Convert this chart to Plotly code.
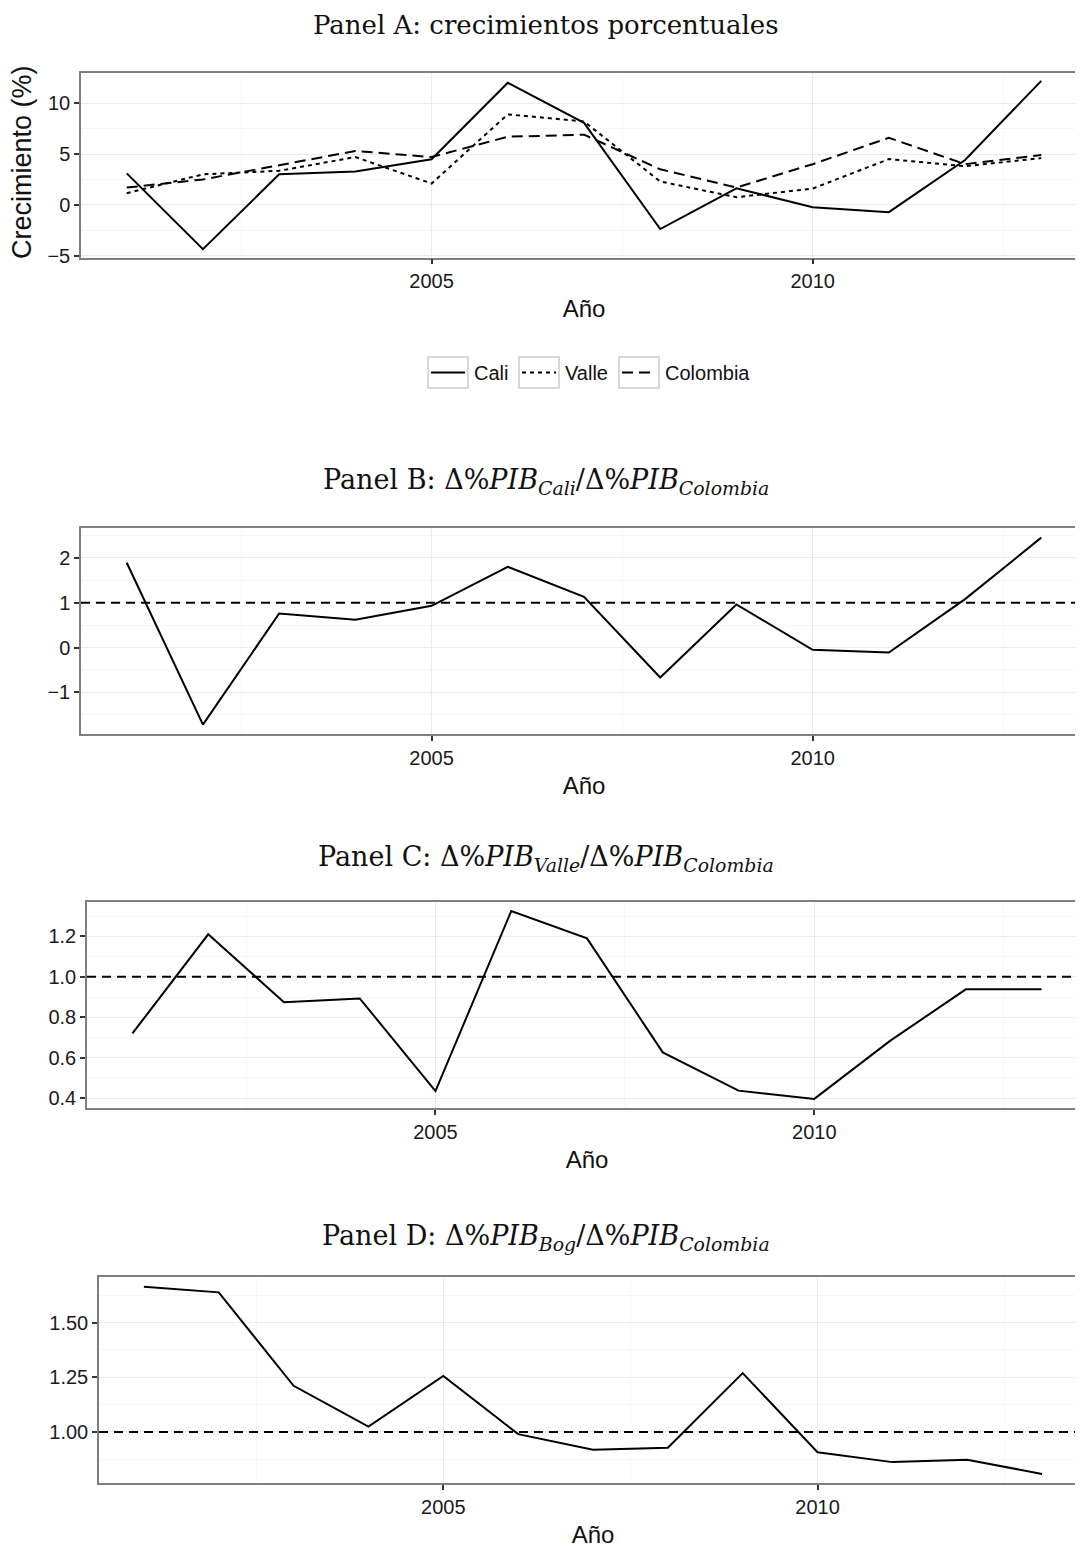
import plotly.graph_objects as go

W, H = 1083, 1547
OFF = 8  # page body margin in the browser

# ---------------- data ----------------
years = list(range(2001, 2014))
cali = [3.1, -4.35, 3.0, 3.27, 4.48, 12.0, 8.07, -2.38, 1.63, -0.23, -0.72, 4.41, 12.19]
valle = [1.15, 3.0, 3.35, 4.7, 2.1, 8.9, 8.2, 2.3, 0.75, 1.6, 4.5, 3.8, 4.6]
colombia = [1.7, 2.5, 3.9, 5.3, 4.7, 6.7, 6.9, 3.5, 1.7, 4.0, 6.6, 4.0, 4.9]

ratio_cali = [1.89, -1.72, 0.76, 0.62, 0.93, 1.80, 1.13, -0.67, 0.96, -0.05, -0.11, 1.08, 2.45]
ratio_valle = [0.72, 1.21, 0.874, 0.893, 0.435, 1.325, 1.19, 0.626, 0.437, 0.396, 0.683, 0.938, 0.938]
ratio_bog = [1.664, 1.638, 1.211, 1.024, 1.256, 0.99, 0.919, 0.928, 1.269, 0.907, 0.862, 0.873, 0.808]

reference_value = 1.0

x_ticks = [2005, 2010]
x_minor = [2002.5, 2007.5, 2012.5]

yticks_a = [-5, 0, 5, 10]
yminor_a = [-2.5, 2.5, 7.5, 12.5]
yticks_b = [-1, 0, 1, 2]
yminor_b = [-1.5, -0.5, 0.5, 1.5, 2.5]
yticks_c = [0.4, 0.6, 0.8, 1.0, 1.2]
yminor_c = [0.5, 0.7, 0.9, 1.1, 1.3]
yticks_d = [1.00, 1.25, 1.50]
yminor_d = [0.875, 1.125, 1.375, 1.625]

series_names = ["Cali", "Valle", "Colombia"]
titles = [
    "Panel A: crecimientos porcentuales",
    "Panel B: Δ%<i>PIB</i><sub><i>Cali</i></sub>/Δ%<i>PIB</i><sub><i>Colombia</i></sub>",
    "Panel C: Δ%<i>PIB</i><sub><i>Valle</i></sub>/Δ%<i>PIB</i><sub><i>Colombia</i></sub>",
    "Panel D: Δ%<i>PIB</i><sub><i>Bog</i></sub>/Δ%<i>PIB</i><sub><i>Colombia</i></sub>",
]
x_title = "Año"
y_title_a = "Crecimiento (%)"

# ---------------- helpers ----------------
def fx(p):
    return (p - OFF) / W

def fy(p):
    return 1 - (p - OFF) / H

def expand(vals, mult=0.05):
    lo, hi = min(vals), max(vals)
    d = (hi - lo) * mult
    return [lo - d, hi + d]

SANS = "Liberation Sans, Arial, sans-serif"
SERIF = "DejaVu Serif, serif"
GRID = "#EBEBEB"
MINOR = "#F7F7F7"
BORDER = "#7F7F7F"

fig = go.Figure()

# panel geometry in screen pixels: left, right, top, bottom
geo = [
    (81, 1087, 72.5, 257.5),
    (81, 1087, 528.3, 734.0),
    (87, 1087, 901.7, 1108.3),
    (99, 1087, 1277.3, 1483.3),
]
title_y = [22, 481, 858, 1237]

xr = [years[0] - 0.05 * (years[-1] - years[0]), years[-1] + 0.05 * (years[-1] - years[0])]
yranges = [
    expand(cali + valle + colombia),
    expand(ratio_cali + [reference_value]),
    expand(ratio_valle + [reference_value]),
    expand(ratio_bog + [reference_value]),
]
yticks = [yticks_a, yticks_b, yticks_c, yticks_d]
yminors = [yminor_a, yminor_b, yminor_c, yminor_d]
ytexts = [
    ["\u22125", "0", "5", "10"],
    ["\u22121", "0", "1", "2"],
    ["0.4", "0.6", "0.8", "1.0", "1.2"],
    ["1.00", "1.25", "1.50"],
]

layout = dict(
    width=W, height=H,
    margin=dict(l=0, r=0, t=0, b=0),
    paper_bgcolor="white", plot_bgcolor="white",
    showlegend=False,
    font=dict(family=SANS, color="#1a1a1a"),
)

for i, (l, r, t, b) in enumerate(geo):
    sfx = "" if i == 0 else str(i + 1)
    xa = dict(
        domain=[max(0, fx(l)), min(1, fx(r))], range=xr, anchor="y" + sfx,
        tickmode="array", tickvals=x_ticks, ticktext=[str(v) for v in x_ticks],
        ticks="outside", ticklen=5, tickwidth=1.5, tickcolor="#333333",
        showgrid=True, gridcolor=GRID, gridwidth=1.3,
        minor=dict(tickvals=x_minor, showgrid=True, gridcolor=MINOR, gridwidth=1.3, ticks=""),
        showline=True, linecolor=BORDER, linewidth=1.5, mirror=True,
        zeroline=False, automargin=False,
        tickfont=dict(size=20, family=SANS, color="#1a1a1a"),
        title=dict(text=x_title, font=dict(size=24, family=SANS, color="#111"), standoff=9),
    )
    ya = dict(
        domain=[fy(b), fy(t)], range=yranges[i], anchor="x" + sfx,
        tickmode="array", tickvals=yticks[i], ticktext=ytexts[i],
        ticks="outside", ticklen=5, tickwidth=1.5, tickcolor="#333333",
        showgrid=True, gridcolor=GRID, gridwidth=1.3,
        minor=dict(tickvals=yminors[i], showgrid=True, gridcolor=MINOR, gridwidth=1.3, ticks=""),
        showline=True, linecolor=BORDER, linewidth=1.5, mirror=True,
        zeroline=False, automargin=False,
        tickfont=dict(size=20, family=SANS, color="#1a1a1a"),
    )
    layout["xaxis" + sfx] = xa
    layout["yaxis" + sfx] = ya

fig.update_layout(**layout)

LW = 2
dashes = ["solid", "4px,4px", "11px,6px"]
for name, vals, dsh in zip(series_names, [cali, valle, colombia], dashes):
    fig.add_trace(go.Scatter(x=years, y=vals, mode="lines", name=name,
                             line=dict(color="black", width=LW, dash=dsh),
                             xaxis="x", yaxis="y"))

for k, vals in enumerate([ratio_cali, ratio_valle, ratio_bog], start=2):
    fig.add_trace(go.Scatter(x=years, y=vals, mode="lines",
                             line=dict(color="black", width=LW),
                             xaxis="x%d" % k, yaxis="y%d" % k))
    fig.add_shape(type="line", xref="x%d domain" % k, x0=0, x1=1,
                  yref="y%d" % k, y0=reference_value, y1=reference_value,
                  line=dict(color="black", width=LW, dash="9px,6px"), layer="above")

# y axis title of panel A
fig.add_annotation(text=y_title_a, x=fx(22), y=fy(162), xref="paper", yref="paper",
                   showarrow=False, textangle=-90, xanchor="center", yanchor="middle",
                   font=dict(family=SANS, size=27, color="#111"))

# titles
for j, (txt, ty) in enumerate(zip(titles, title_y)):
    if j == 0:
        fig.add_annotation(text=txt, x=fx(546), y=1, xref="paper", yref="paper",
                           showarrow=False, xanchor="center", yanchor="top",
                           font=dict(family=SERIF, size=26, color="#111"))
    else:
        fig.add_annotation(text=txt, x=fx(546), y=fy(ty), xref="paper", yref="paper",
                           showarrow=False, xanchor="center", yanchor="middle",
                           font=dict(family=SERIF, size=27, color="#111"))

# manual legend for panel A
leg_boxes = [(428, 468), (519, 559), (619, 659)]
leg_top, leg_bot = 357, 388
leg_mid = (leg_top + leg_bot) / 2
for (bx0, bx1), name, dsh in zip(leg_boxes, series_names, dashes):
    fig.add_shape(type="rect", xref="paper", yref="paper",
                  x0=fx(bx0), x1=fx(bx1), y0=fy(leg_bot), y1=fy(leg_top),
                  line=dict(color="#CCCCCC", width=1.5), fillcolor="white")
    fig.add_shape(type="line", xref="paper", yref="paper",
                  x0=fx(bx0 + 3), x1=fx(bx1 - 3), y0=fy(leg_mid), y1=fy(leg_mid),
                  line=dict(color="black", width=LW, dash=dsh))
    fig.add_annotation(text=name, x=fx(bx1 + 4), y=fy(leg_mid), xref="paper", yref="paper",
                       showarrow=False, xanchor="left", yanchor="middle",
                       font=dict(family=SANS, size=20, color="#111"))

fig.write_html("out.html")
